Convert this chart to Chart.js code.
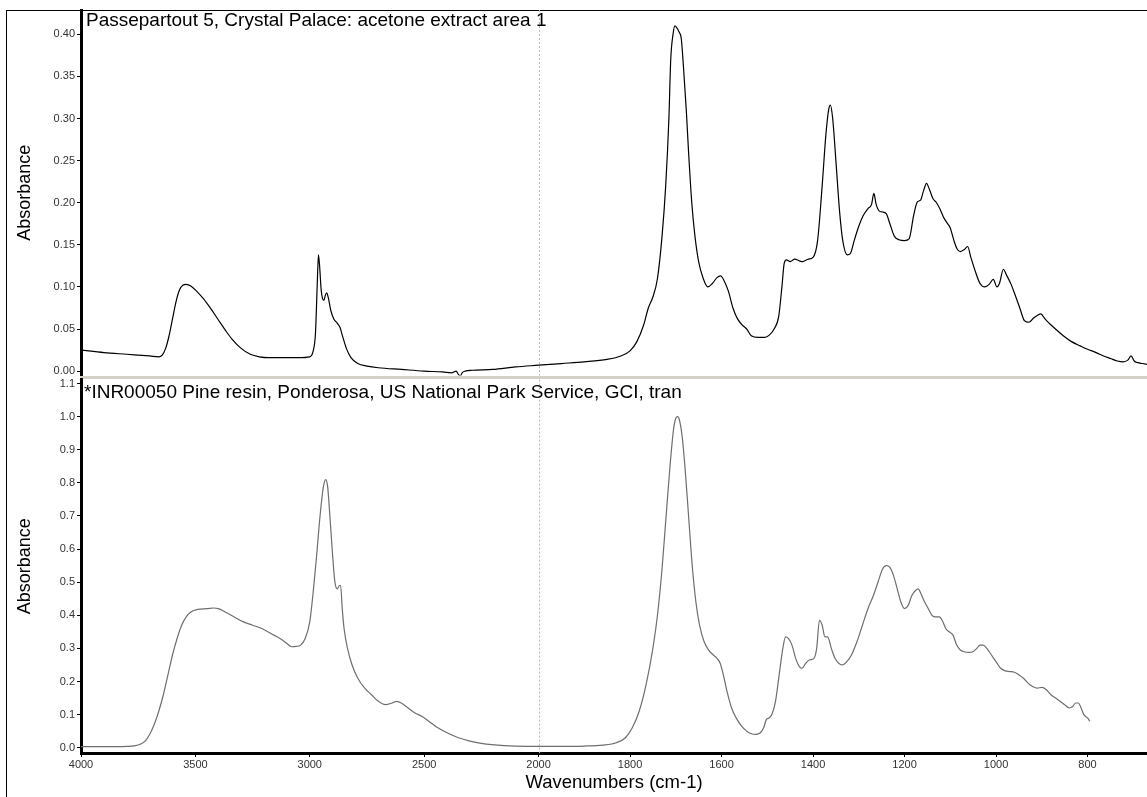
<!DOCTYPE html>
<html>
<head>
<meta charset="utf-8">
<script src="https://cdn.jsdelivr.net/npm/chart.js@4.4.1/dist/chart.umd.min.js"></script>
<style>
  body { margin: 0; background: #fff; }
  #wrap { position: relative; width: 1147px; height: 797px; overflow: hidden; font-family: "Liberation Sans", Arial, sans-serif; }
  #frame { position: absolute; left: 6px; top: 10px; width: 1200px; height: 800px; border-left: 1px solid #000; border-top: 1px solid #000; }
  #topBox { position: absolute; left: 0; top: 0; width: 1147px; height: 384px; }
  #botBox { position: absolute; left: 0; top: 371px; width: 1147px; height: 426px; }
  #sep { position: absolute; left: 80px; top: 376px; width: 1070px; height: 3px; background: #d4d0c8; }
  .label { position: absolute; font-size: 19px; color: #000; white-space: nowrap; }
</style>
</head>
<body>
<div id="wrap">
  <div id="frame"></div>
  <div id="sep"></div>
  <div id="topBox"><canvas id="topChart"></canvas></div>
  <div id="botBox"><canvas id="botChart"></canvas></div>
  <div class="label" style="left:86px; top:9px;">Passepartout 5, Crystal Palace: acetone extract area 1</div>
  <div class="label" style="left:84px; top:381px;">*INR00050 Pine resin, Ponderosa, US National Park Service, GCI, tran</div>
</div>
<script>
// x tick labels (wavenumbers)
const xTickLabels = [4000, 3500, 3000, 2500, 2000, 1800, 1600, 1400, 1200, 1000, 800];
const yTicksTop = [0, 0.05, 0.10, 0.15, 0.20, 0.25, 0.30, 0.35, 0.40];
const yTicksBot = [0, 0.1, 0.2, 0.3, 0.4, 0.5, 0.6, 0.7, 0.8, 0.9, 1.0, 1.1];

// acetone extract, area 1
const topWn = [4000, 3900, 3800, 3700, 3660, 3645, 3630, 3615, 3600, 3585, 3570, 3555, 3540, 3520, 3495,
  3465, 3435, 3400, 3370, 3340, 3300, 3260, 3220, 3180, 3120, 3050, 3000, 2985, 2975, 2967, 2962,
  2957, 2950, 2944, 2938, 2932, 2926, 2918, 2908, 2895, 2880, 2868, 2855, 2840, 2820, 2790, 2750,
  2700, 2600, 2500, 2420, 2380, 2360, 2350, 2342, 2334, 2320, 2290, 2200, 2100, 2000,
  1950, 1900, 1850, 1820, 1800, 1785, 1770, 1760, 1750, 1740, 1730, 1722, 1715, 1711, 1706, 1702,
  1698, 1693, 1688, 1683, 1677, 1672, 1665, 1658, 1650, 1640, 1630, 1620, 1610, 1602, 1595, 1585,
  1575, 1565, 1555, 1545, 1535, 1520, 1505, 1495, 1485, 1475, 1468, 1463, 1458, 1450, 1440, 1430,
  1423, 1410, 1400, 1390, 1380, 1372, 1366, 1362, 1357, 1350, 1342, 1335, 1325, 1318, 1310, 1300,
  1290, 1280, 1272, 1267, 1262, 1255, 1248, 1240, 1232, 1222, 1212, 1200, 1190, 1180, 1172, 1165,
  1158, 1152, 1145, 1138, 1130, 1122, 1115, 1107, 1100, 1092, 1085, 1078, 1070, 1062, 1055, 1045,
  1035, 1025, 1015, 1006, 998, 992, 984, 977, 967, 958, 948, 938, 928, 918, 910, 902,
  893, 882, 870, 853, 835, 816, 800, 781, 765, 750, 735, 722, 712, 705, 698, 690, 680, 670];
const topAbs = [0.025, 0.022, 0.020, 0.018, 0.017, 0.019, 0.027, 0.042, 0.062, 0.082, 0.096, 0.102, 0.103, 0.101, 0.095,
  0.086, 0.075, 0.061, 0.049, 0.038, 0.027, 0.020, 0.017, 0.016, 0.016, 0.016, 0.017, 0.024, 0.045, 0.105, 0.138,
  0.125, 0.096, 0.086, 0.084, 0.090, 0.093, 0.086, 0.072, 0.062, 0.057, 0.052, 0.040, 0.027, 0.016, 0.009, 0.006,
  0.004, 0.002, 0.000, -0.001, -0.002, 0.000, -0.004, -0.006, -0.002, 0.000, 0.001, 0.002, 0.005, 0.007,
  0.009, 0.011, 0.014, 0.018, 0.024, 0.035, 0.055, 0.075, 0.088, 0.110, 0.160, 0.220, 0.300, 0.370, 0.400, 0.410,
  0.408, 0.403, 0.395, 0.360, 0.310, 0.260, 0.200, 0.160, 0.130, 0.110, 0.100, 0.104, 0.111, 0.113, 0.108, 0.095,
  0.075, 0.062, 0.055, 0.050, 0.042, 0.040, 0.040, 0.043, 0.050, 0.065, 0.100, 0.128, 0.132, 0.130, 0.133, 0.131,
  0.130, 0.133, 0.135, 0.155, 0.220, 0.280, 0.310, 0.316, 0.300, 0.250, 0.190, 0.155, 0.138, 0.140, 0.155, 0.172,
  0.185, 0.193, 0.198, 0.211, 0.198, 0.190, 0.189, 0.187, 0.175, 0.160, 0.156, 0.155, 0.157, 0.185, 0.201, 0.203,
  0.215, 0.223, 0.215, 0.205, 0.200, 0.192, 0.183, 0.176, 0.170, 0.155, 0.145, 0.142, 0.144, 0.148, 0.135, 0.118,
  0.104, 0.100, 0.103, 0.109, 0.100, 0.105, 0.121, 0.114, 0.103, 0.090, 0.075, 0.060, 0.058, 0.063, 0.066, 0.068,
  0.062, 0.056, 0.050, 0.042, 0.035, 0.030, 0.026, 0.022, 0.018, 0.015, 0.012, 0.011, 0.013, 0.018, 0.012, 0.010, 0.009, 0.008];

// pine resin reference
const botWn = [4000, 3900, 3800, 3750, 3720, 3700, 3680, 3660, 3640, 3620, 3600, 3580, 3560, 3540, 3520,
  3490, 3450, 3420, 3400, 3370, 3330, 3290, 3250, 3210, 3170, 3130, 3100, 3080, 3060, 3040, 3020,
  3000, 2985, 2970, 2955, 2940, 2930, 2922, 2912, 2900, 2890, 2880, 2870, 2865, 2858, 2850, 2835,
  2815, 2790, 2760, 2730, 2700, 2670, 2640, 2620, 2600, 2570, 2540, 2510, 2480, 2440, 2400, 2350,
  2300, 2250, 2150, 2050, 2000,
  1950, 1900, 1860, 1830, 1810, 1795, 1780, 1765, 1750, 1740, 1730, 1720, 1712, 1705, 1700, 1696,
  1692, 1686, 1680, 1672, 1664, 1656, 1648, 1638, 1628, 1618, 1610, 1603, 1596, 1588, 1578, 1568,
  1556, 1545, 1535, 1525, 1515, 1508, 1502, 1496, 1490, 1482, 1474, 1466, 1460, 1454, 1446, 1438,
  1430, 1424, 1416, 1408, 1398, 1392, 1386, 1380, 1374, 1368, 1360, 1352, 1344, 1336, 1326, 1316,
  1304, 1292, 1280, 1268, 1258, 1248, 1240, 1232, 1224, 1216, 1208, 1200, 1192, 1184, 1176, 1170,
  1164, 1156, 1148, 1140, 1132, 1124, 1116, 1110, 1102, 1094, 1086, 1078, 1070, 1060, 1050, 1042,
  1035, 1028, 1020, 1010, 1000, 990, 980, 970, 960, 950, 940, 930, 920, 910, 900, 890,
  880, 870, 860, 850, 840, 832, 826, 820, 814, 808, 800, 795];
const botAbs = [0.003, 0.003, 0.004, 0.008, 0.020, 0.040, 0.070, 0.110, 0.160, 0.220, 0.280, 0.330, 0.370, 0.395, 0.410,
  0.418, 0.420, 0.422, 0.420, 0.410, 0.395, 0.380, 0.370, 0.360, 0.345, 0.330, 0.315, 0.305, 0.306, 0.310, 0.330,
  0.380, 0.470, 0.580, 0.700, 0.790, 0.810, 0.790, 0.700, 0.580, 0.500, 0.480, 0.490, 0.490, 0.420, 0.360, 0.300,
  0.250, 0.210, 0.180, 0.160, 0.140, 0.130, 0.135, 0.140, 0.135, 0.120, 0.105, 0.095, 0.080, 0.060, 0.045, 0.030,
  0.020, 0.013, 0.006, 0.004, 0.004,
  0.004, 0.005, 0.008, 0.015, 0.030, 0.060, 0.110, 0.190, 0.300, 0.400, 0.540, 0.720, 0.860, 0.960, 0.995, 1.000,
  0.990, 0.940, 0.850, 0.700, 0.550, 0.440, 0.370, 0.320, 0.295, 0.280, 0.270, 0.255, 0.220, 0.170, 0.120, 0.090,
  0.065, 0.050, 0.042, 0.040, 0.045, 0.060, 0.085, 0.090, 0.100, 0.140, 0.220, 0.300, 0.335, 0.330, 0.310, 0.270,
  0.245, 0.240, 0.255, 0.265, 0.270, 0.300, 0.385, 0.370, 0.335, 0.335, 0.300, 0.270, 0.255, 0.250, 0.260, 0.280,
  0.320, 0.370, 0.420, 0.460, 0.500, 0.540, 0.550, 0.545, 0.520, 0.480, 0.440, 0.420, 0.430, 0.460, 0.475, 0.480,
  0.465, 0.440, 0.420, 0.400, 0.395, 0.395, 0.380, 0.360, 0.350, 0.340, 0.310, 0.295, 0.290, 0.288, 0.290, 0.300,
  0.310, 0.310, 0.300, 0.280, 0.260, 0.240, 0.232, 0.230, 0.228, 0.220, 0.210, 0.195, 0.185, 0.180, 0.182, 0.175,
  0.160, 0.150, 0.140, 0.130, 0.120, 0.125, 0.135, 0.135, 0.120, 0.100, 0.090, 0.080];

// the instrument plots 4000-2000 at half scale, below 2000 at full scale
function toU(wn) { return wn >= 2000 ? (4000 - wn) / 2 : 1000 + (2000 - wn); }
function fromU(u) { return u <= 1000 ? 4000 - 2 * u : 2000 - (u - 1000); }

function points(wn, abs) {
  return wn.map((w, i) => ({ x: toU(w), y: abs[i] }));
}

const tickFont = { family: 'Liberation Sans', size: 11 };
const titleFont = { family: 'Liberation Sans', size: 18 };

const breakLine = {
  id: 'breakLine',
  beforeDatasetsDraw(chart) {
    const { ctx, chartArea, scales } = chart;
    const x = Math.round(scales.x.getPixelForValue(toU(2000))) + 0.5;
    ctx.save();
    ctx.strokeStyle = '#b8b8b8';
    ctx.lineWidth = 1;
    ctx.setLineDash([2, 2]);
    ctx.beginPath();
    ctx.moveTo(x, chartArea.top);
    ctx.lineTo(x, chartArea.bottom);
    ctx.stroke();
    ctx.restore();
  }
};

function xScale(show) {
  const s = {
    type: 'linear',
    min: 0,
    max: toU(670),
    display: show,
    afterBuildTicks: (sc) => { sc.ticks = xTickLabels.map(w => ({ value: toU(w) })); },
    grid: { drawOnChartArea: false, drawTicks: true, tickLength: 4, color: '#000', tickColor: '#000' },
    border: { display: true, color: '#000', width: 3 },
    ticks: { font: tickFont, color: '#333', padding: 1, maxRotation: 0, autoSkip: false,
      callback: (v) => String(Math.round(fromU(v))) },
    title: { display: true, text: 'Wavenumbers (cm-1)', font: { family: 'Liberation Sans', size: 18.5 }, color: '#000',
      padding: { top: 0, bottom: 3 } }
  };
  if (show) s.afterFit = (sc) => { sc.height = 44; };
  return s;
}

function yScale(min, max, ticks, digits) {
  return {
    type: 'linear',
    min: min,
    max: max,
    afterBuildTicks: (s) => { s.ticks = ticks.map(v => ({ value: v })); },
    afterFit: (s) => { s.width = 81; },
    grid: { drawOnChartArea: false, drawTicks: true, tickLength: 4, color: '#000', tickColor: '#000' },
    border: { display: true, color: '#000', width: 3 },
    ticks: { font: tickFont, color: '#333', padding: 2, callback: (v) => v.toFixed(digits) },
    title: { display: true, text: 'Absorbance', font: titleFont, color: '#000', padding: { top: 14, bottom: 0 } }
  };
}

function makeChart(id, data, color, yMin, yMax, yTicks, digits, showX, pad) {
  return new Chart(document.getElementById(id), {
    type: 'line',
    data: { datasets: [{ data: data, borderColor: color, borderWidth: 1.2, pointRadius: 0, fill: false,
      cubicInterpolationMode: 'monotone' }] },
    options: {
      responsive: true,
      maintainAspectRatio: false,
      animation: false,
      layout: { padding: pad },
      plugins: { legend: { display: false }, tooltip: { enabled: false } },
      scales: { x: xScale(showX), y: yScale(yMin, yMax, yTicks, digits) }
    },
    plugins: [breakLine]
  });
}

makeChart('topChart', points(topWn, topAbs), '#000', -0.0051, 0.4289, yTicksTop, 2, false,
  { top: 10, bottom: 8, left: 0, right: 0 });
makeChart('botChart', points(botWn, botAbs), '#6e6e6e', -0.016, 1.112, yTicksBot, 1, true,
  { top: 8, bottom: 0, left: 0, right: 0 });
</script>
</body>
</html>
